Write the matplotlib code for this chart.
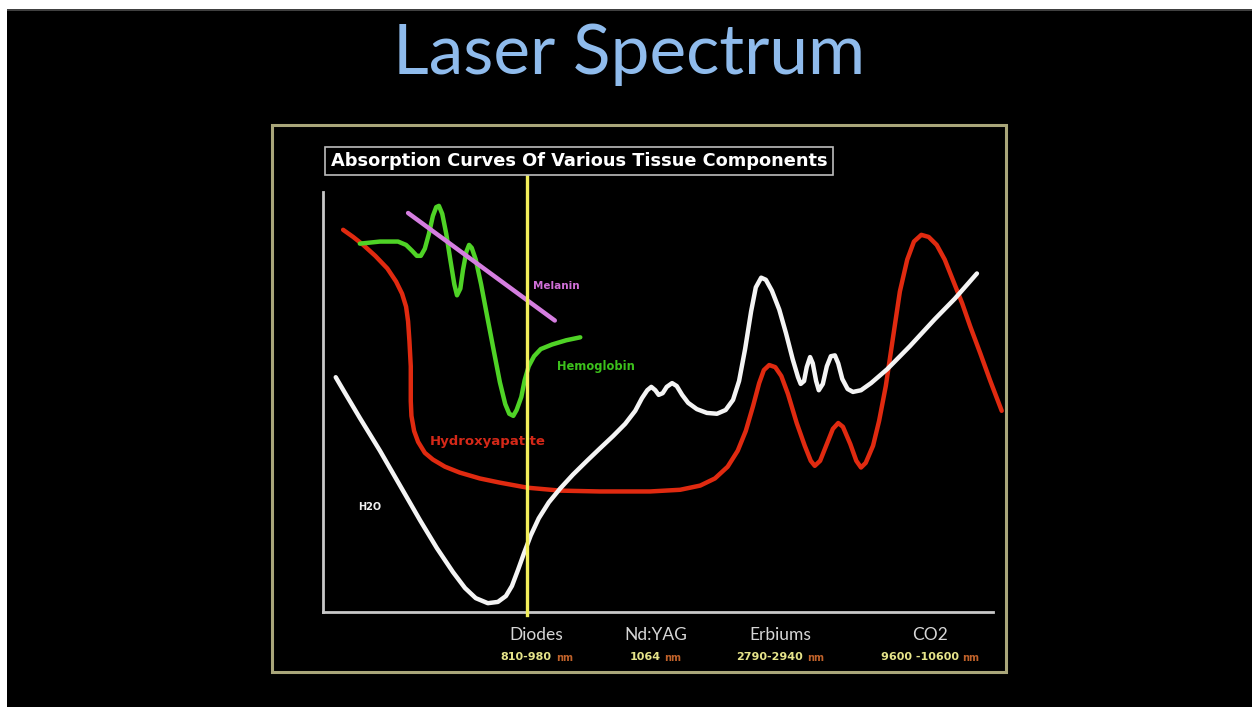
import matplotlib
matplotlib.use("Agg")
import matplotlib.pyplot as plt
from matplotlib.patches import Rectangle

# ---------------- data (relative wavelength position 0-100, relative absorption 0-100)
hydroxyapatite_x = [3.0, 4.5, 6.0, 7.8, 9.6, 10.9, 11.8, 12.4, 12.7, 12.9, 13.1, 13.1, 13.2, 13.6,
                    14.2, 15.2, 16.4, 18.2, 20.4, 23.4, 26.4, 30.5, 35.4, 41.3, 48.8, 53.3, 56.3,
                    58.5, 60.4, 61.9, 63.1, 64.2, 65.1, 65.8, 66.6, 67.5, 68.4, 69.4, 70.7, 71.9,
                    72.8, 73.4, 74.2, 75.2, 76.1, 76.9, 77.6, 78.7, 79.6, 80.3, 81.0, 82.1, 83.0,
                    84.0, 85.1, 86.1, 87.2, 88.2, 89.3, 90.4, 91.6, 92.8, 94.0, 95.4, 96.6, 98.1,
                    99.6, 101.3]
hydroxyapatite_y = [91.0, 89.3, 87.4, 84.8, 81.8, 78.7, 75.8, 72.7, 69.2, 64.5, 58.5, 50.2, 46.7, 43.1,
                    40.5, 37.9, 36.3, 34.6, 33.2, 31.8, 30.8, 29.6, 28.9, 28.7, 28.7, 29.1, 30.1,
                    31.8, 34.6, 38.4, 43.1, 49.1, 54.5, 57.6, 58.8, 58.3, 56.2, 51.9, 45.0, 39.6,
                    36.0, 34.8, 36.0, 40.0, 43.6, 45.0, 44.1, 40.0, 36.0, 34.4, 35.5, 39.6, 45.5,
                    53.8, 65.6, 76.3, 83.9, 88.2, 89.8, 89.3, 87.4, 83.9, 79.1, 73.5, 68.0, 61.6,
                    55.0, 47.9]

h2o_x = [1.9, 3.3, 5.5, 8.5, 11.5, 14.5, 17.0, 19.4, 21.2, 22.8, 24.6, 26.1, 27.3, 28.2, 29.1, 30.0,
         31.0, 32.2, 33.7, 35.4, 37.3, 39.4, 41.3, 43.3, 45.1, 46.6, 47.6, 48.4, 49.0, 49.6, 50.1,
         50.7, 51.3, 52.1, 52.8, 53.6, 54.5, 55.8, 57.3, 58.8, 60.1, 61.2, 62.1, 63.0, 63.9, 64.6,
         65.4, 66.1, 67.0, 68.1, 69.1, 70.1, 70.9, 71.3, 71.8, 72.2, 72.7, 73.1, 73.6, 74.0, 74.6,
         75.2, 75.8, 76.4, 76.9, 77.5, 78.3, 79.1, 80.3, 81.8, 84.2, 87.6, 91.3, 94.3, 97.6]
h2o_y = [55.9, 52.1, 46.2, 38.4, 30.1, 21.8, 15.2, 9.5, 5.7, 3.3, 2.1, 2.4, 3.8, 6.2, 10.0, 14.0,
         18.2, 22.3, 26.1, 29.4, 32.7, 36.0, 38.9, 41.9, 44.8, 47.9, 50.9, 52.8, 53.6, 52.8, 51.7,
         52.1, 53.6, 54.5, 53.8, 51.7, 49.8, 48.3, 47.4, 47.2, 48.1, 50.5, 55.0, 62.6, 71.6, 77.3,
         79.6, 79.1, 76.5, 72.0, 66.4, 60.2, 55.9, 54.3, 55.0, 58.3, 60.7, 59.2, 55.0, 52.8, 54.3,
         58.5, 60.9, 61.1, 59.2, 55.5, 53.1, 52.4, 52.8, 54.5, 57.8, 63.3, 69.7, 74.6, 80.6]

hemoglobin_x = [5.5, 8.5, 11.2, 12.4, 13.3, 14.0, 14.6, 15.2, 15.8, 16.4, 16.9, 17.3, 17.8, 18.4,
                19.0, 19.6, 20.0, 20.5, 20.9, 21.4, 21.8, 22.2, 22.8, 23.6, 24.5, 25.5, 26.4,
                27.2, 27.8, 28.4, 28.9, 29.6, 30.1, 30.7, 31.5, 32.5, 34.2, 36.3, 38.4]
hemoglobin_y = [87.7, 88.2, 88.2, 87.4, 86.0, 84.8, 84.8, 86.5, 90.0, 94.3, 96.4, 96.7, 94.8, 90.0,
                83.9, 78.0, 75.4, 77.0, 81.5, 85.8, 87.4, 86.7, 83.9, 78.0, 70.4, 62.1, 54.7,
                49.5, 47.2, 46.7, 48.1, 51.2, 55.2, 58.5, 60.9, 62.6, 63.7, 64.7, 65.4]

melanin_x = [12.7, 34.6]
melanin_y = [95.0, 69.4]

diode_x = 30.45

laser_names = ["Diodes", "Nd:YAG", "Erbiums", "CO2"]
laser_wavelengths = ["810-980", "1064", "2790-2940", "9600 -10600"]
laser_positions = [31.9, 49.6, 68.2, 90.6]

# ---------------- figure
W, H = 1252, 707
fig = plt.figure(figsize=(W / 100, H / 100), dpi=100, facecolor="black")

def fx(px):
    return px / W

def fy(py):
    return 1 - py / H

# white strips of the screenshot edges
fig.patches.append(Rectangle((0, fy(9)), 1, 9 / H, transform=fig.transFigure,
                             facecolor="white", edgecolor="none", zorder=0))
fig.patches.append(Rectangle((0, fy(11)), 1, 2 / H, transform=fig.transFigure,
                             facecolor="#404040", edgecolor="none", zorder=0))
fig.patches.append(Rectangle((0, 0), 7 / W, 1, transform=fig.transFigure,
                             facecolor="white", edgecolor="none", zorder=0))

# outer frame
fig.patches.append(Rectangle((fx(272), fy(672)), (1006 - 272) / W, (672 - 125) / H,
                             transform=fig.transFigure, facecolor="none",
                             edgecolor="#a9a67a", linewidth=2.2, zorder=1))

# main title
fig.text(fx(629), fy(55), "Laser Spectrum", color="#8fbbec", fontsize=50,
         family="Lato", ha="center", va="center")

# plot axes
ax = fig.add_axes([fx(323), fy(612), (993 - 323) / W, (612 - 192) / H])
ax.set_facecolor("black")
ax.set_xlim(0, 100)
ax.set_ylim(0, 100)
for s in ["top", "right"]:
    ax.spines[s].set_visible(False)
for s in ["left", "bottom"]:
    ax.spines[s].set_color("#c8c8c8")
    ax.spines[s].set_linewidth(2)
ax.set_yticks([])
ax.set_xticks(laser_positions)
ax.set_xticklabels(laser_names, color="#d6d6d6", fontsize=12.5, family="Lato")
ax.tick_params(axis="x", length=0, pad=11)

# wavelength line under the names (number + "nm", centred as a group)
renderer = fig.canvas.get_renderer()
px2pt = 72 / 100
gap = 4
for xp, wl in zip(laser_positions, laser_wavelengths):
    t1 = ax.annotate(wl, xy=(xp, 0), xycoords="data", xytext=(0, -32.5),
                     textcoords="offset points", ha="left", va="center",
                     color="#e6e48a", fontsize=8, fontweight="bold",
                     family="DejaVu Sans Condensed", annotation_clip=False)
    t2 = ax.annotate("nm", xy=(xp, 0), xycoords="data", xytext=(0, -33),
                     textcoords="offset points", ha="left", va="center",
                     color="#c0622a", fontsize=7, fontweight="bold",
                     family="DejaVu Sans Condensed", annotation_clip=False)
    w1 = t1.get_window_extent(renderer).width
    w2 = t2.get_window_extent(renderer).width
    total = w1 + gap + w2
    start = -total / 2
    t1.set_position((start * px2pt, -32.5))
    t2.set_position(((start + w1 + gap) * px2pt, -33))

lw = 3.2
ax.plot(hydroxyapatite_x, hydroxyapatite_y, color="#e02a10", lw=lw, clip_on=False,
        solid_joinstyle="round", solid_capstyle="round", zorder=3)
ax.plot(h2o_x, h2o_y, color="#f4f4f4", lw=lw, clip_on=False,
        solid_joinstyle="round", solid_capstyle="round", zorder=4)
ax.plot(hemoglobin_x, hemoglobin_y, color="#4fd326", lw=lw, clip_on=False,
        solid_joinstyle="round", solid_capstyle="round", zorder=4)
ax.plot(melanin_x, melanin_y, color="#d57ee0", lw=3.2, clip_on=False,
        solid_capstyle="round", zorder=5)
ax.plot([diode_x, diode_x], [-0.7, 104.3], color="#f2ee5a", lw=2.4, clip_on=False, zorder=6)

# curve labels
lab = dict(fontweight="bold", ha="left", va="center")
ax.text(31.3, 77.6, "Melanin", color="#d070d8", fontsize=7.5, **lab)
ax.text(34.9, 58.5, "Hemoglobin", color="#3cc01c", fontsize=8.3, **lab)
ax.text(16.0, 40.5, "Hydroxyapatite", color="#d42818", fontsize=9.5, **lab)
ax.text(5.3, 25.0, "H2O", color="#f0f0f0", fontsize=7, **lab)

# chart heading box
fig.text(fx(579), fy(161), "Absorption Curves Of Various Tissue Components",
         color="white", fontsize=12.8, fontweight="bold", ha="center", va="center",
         bbox=dict(boxstyle="square,pad=0.3", facecolor="black", edgecolor="#bdbdbd", lw=1.2))

fig.savefig("out.png", dpi=100, facecolor="black")
